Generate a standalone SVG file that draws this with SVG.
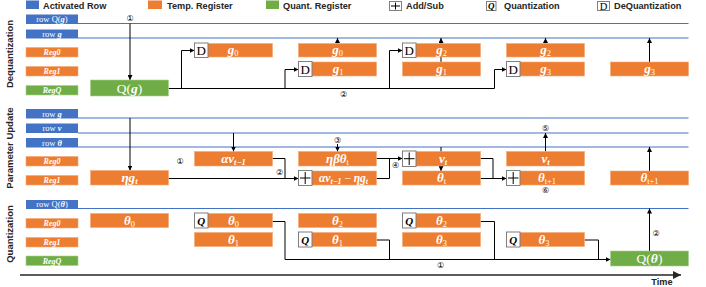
<svg xmlns="http://www.w3.org/2000/svg" width="706" height="287" viewBox="0 0 706 287">
<defs>
<marker id="ah" viewBox="0 0 8 8" refX="8" refY="4" markerWidth="5" markerHeight="5" markerUnits="userSpaceOnUse" orient="auto"><path d="M0,0 L8,4 L0,8 z" fill="#000"/></marker>
<marker id="ahT" viewBox="0 0 8 8" refX="8" refY="4" markerWidth="8" markerHeight="8" markerUnits="userSpaceOnUse" orient="auto"><path d="M0,0 L8,4 L0,8 z" fill="#262626"/></marker>
<style>
.blue{fill:#4472C4}
.or{fill:#ED7D31;stroke:#F2A878;stroke-width:0.6}
.gr{fill:#70AD47;stroke:#A9D18E;stroke-width:0.6}
.row{stroke:#4472C4;stroke-width:1.1;fill:none}
.c{stroke:#000;stroke-width:1;fill:none}
.ca{stroke:#000;stroke-width:1;fill:none;marker-end:url(#ah)}
.ic{fill:#fff;stroke:#7F7F7F;stroke-width:1}
.pl{stroke:#000;stroke-width:1}
.leg{font-family:"Liberation Sans","DejaVu Sans",sans-serif;font-weight:bold;font-size:9.2px;fill:#262626}
.sec{font-family:"Liberation Sans","DejaVu Sans",sans-serif;font-weight:bold;font-size:9.5px;fill:#262626;text-anchor:middle}
.lab{font-family:"Liberation Serif","DejaVu Serif",serif;font-size:8.5px;fill:#fff;text-anchor:middle}
.reg{font-family:"Liberation Serif","DejaVu Serif",serif;font-size:8px;fill:#fff;text-anchor:middle;font-style:italic;font-weight:bold}
.t{font-family:"Liberation Serif","DejaVu Serif",serif;font-size:13px;fill:#fff;text-anchor:middle}
.v{font-style:italic;font-weight:bold}
.s{font-size:8.5px}
.n{font-family:"DejaVu Sans","Noto Sans CJK SC",sans-serif;font-size:8px;fill:#000;text-anchor:middle}
.D{font-family:"Liberation Serif","DejaVu Serif",serif;font-size:13px;fill:#000;text-anchor:middle}
.Q{font-family:"Liberation Serif","DejaVu Serif",serif;font-size:11px;fill:#000;text-anchor:middle;font-style:italic;font-weight:bold}
</style>
</defs>

<!-- Legend -->
<g id="legend">
<rect x="26" y="0.5" width="13" height="8.5" class="blue"/>
<text x="43" y="9" class="leg">Activated Row</text>
<rect x="148" y="0.5" width="14" height="8.5" fill="#ED7D31"/>
<text x="167" y="9" class="leg">Temp. Register</text>
<rect x="266" y="0.5" width="13" height="8.5" fill="#70AD47"/>
<text x="283" y="9" class="leg">Quant. Register</text>
<rect x="389.5" y="1.5" width="12" height="9" class="ic"/>
<line x1="391" y1="6" x2="400" y2="6" class="pl"/><line x1="395.5" y1="2.5" x2="395.5" y2="9.5" class="pl"/>
<text x="406" y="9" class="leg">Add/Sub</text>
<rect x="486.5" y="1.5" width="9.5" height="9" class="ic"/>
<text x="491.2" y="9.3" class="Q" style="font-size:9px">Q</text>
<text x="504" y="9" class="leg">Quantization</text>
<rect x="597.5" y="1.5" width="12" height="9" class="ic"/>
<text x="603.5" y="9.6" class="D" style="font-size:10.5px">D</text>
<text x="614" y="9" class="leg">DeQuantization</text>
</g>

<!-- Section titles -->
<text class="sec" transform="translate(13,54) rotate(-90)">Dequantization</text>
<text class="sec" transform="translate(13,148) rotate(-90)">Parameter Update</text>
<text class="sec" transform="translate(13,234) rotate(-90)">Quantization</text>

<!-- Row lines -->
<g id="rowlines">
<line x1="78" y1="23.5" x2="688.5" y2="23.5" class="row"/>
<line x1="78" y1="38" x2="688.5" y2="38" class="row"/>
<line x1="78" y1="118" x2="688.5" y2="118" class="row"/>
<line x1="78" y1="133" x2="688.5" y2="133" class="row"/>
<line x1="78" y1="147" x2="688.5" y2="147" class="row"/>
<line x1="78" y1="208.5" x2="688.5" y2="208.5" class="row"/>
</g>

<!-- Row labels -->
<g id="labels-dq">
<rect x="26" y="14.5" width="52" height="9.5" class="blue"/><text x="52" y="22" class="lab">row Q(<tspan class="v">g</tspan>)</text>
<rect x="26" y="29.5" width="52" height="9" class="blue"/><text x="52" y="36.5" class="lab">row <tspan class="v">g</tspan></text>
<rect x="26" y="47.5" width="52" height="9.5" class="or"/><text x="52" y="55" class="reg">Reg0</text>
<rect x="26" y="66.5" width="52" height="9.5" class="or"/><text x="52" y="74" class="reg">Reg1</text>
<rect x="26" y="85.5" width="52" height="9.5" class="gr"/><text x="52" y="93" class="reg">RegQ</text>
</g>
<g id="labels-pu">
<rect x="26" y="109" width="52" height="9.5" class="blue"/><text x="52" y="116.5" class="lab">row <tspan class="v">g</tspan></text>
<rect x="26" y="123.5" width="52" height="9.5" class="blue"/><text x="52" y="131" class="lab">row <tspan class="v">v</tspan></text>
<rect x="26" y="138" width="52" height="9.5" class="blue"/><text x="52" y="145.5" class="lab">row <tspan class="v">θ</tspan></text>
<rect x="26" y="156.5" width="52" height="9.5" class="or"/><text x="52" y="164" class="reg">Reg0</text>
<rect x="26" y="175.5" width="52" height="9.5" class="or"/><text x="52" y="183" class="reg">Reg1</text>
</g>
<g id="labels-q">
<rect x="26" y="200" width="52" height="9" class="blue"/><text x="52" y="207" class="lab">row Q(<tspan class="v">θ</tspan>)</text>
<rect x="26" y="218.5" width="52" height="9.5" class="or"/><text x="52" y="226" class="reg">Reg0</text>
<rect x="26" y="237.5" width="52" height="9.5" class="or"/><text x="52" y="245" class="reg">Reg1</text>
<rect x="26" y="256" width="52" height="9.5" class="gr"/><text x="52" y="263.5" class="reg">RegQ</text>
</g>

<!-- Connectors -->
<g id="connectors">
<line x1="130" y1="23.5" x2="130" y2="80" class="ca"/>
<line x1="168.5" y1="88.5" x2="494.5" y2="88.5" class="c"/>
<polyline points="181.5,88.5 181.5,50.5 194.5,50.5" class="ca"/>
<polyline points="285,88.5 285,69.5 298.5,69.5" class="ca"/>
<polyline points="389.5,88.5 389.5,50.5 402.5,50.5" class="ca"/>
<polyline points="494.5,88.5 494.5,69.5 506.5,69.5" class="ca"/>
<line x1="337.5" y1="43.5" x2="337.5" y2="38" class="ca"/>
<line x1="441" y1="71" x2="441" y2="38" class="ca"/>
<line x1="545.5" y1="43.5" x2="545.5" y2="38" class="ca"/>
<line x1="649.5" y1="62" x2="649.5" y2="38" class="ca"/>
<line x1="130" y1="118" x2="130" y2="170.5" class="ca"/>
<line x1="233.5" y1="133" x2="233.5" y2="151.5" class="ca"/>
<line x1="168.5" y1="178.5" x2="298.5" y2="178.5" class="ca"/>
<polyline points="272.5,158.5 285,158.5 285,178.5" class="c"/>
<line x1="337.5" y1="144" x2="337.5" y2="151.5" class="ca"/>
<polyline points="376.5,178.5 389.5,178.5 389.5,158.5" class="c"/>
<line x1="376.5" y1="158.5" x2="402.5" y2="158.5" class="ca"/>
<line x1="441" y1="147" x2="441" y2="171" class="ca"/>
<polyline points="480.5,158.5 493,158.5 493,178.5" class="c"/>
<line x1="480.5" y1="178.5" x2="506.5" y2="178.5" class="ca"/>
<line x1="545.5" y1="151.5" x2="545.5" y2="133" class="ca"/>
<line x1="649.5" y1="171" x2="649.5" y2="147" class="ca"/>
<polyline points="272.5,221.5 285,221.5 285,259.5 610.5,259.5" class="ca"/>
<polyline points="376.5,240 389.5,240 389.5,259.5" class="c"/>
<polyline points="480.5,221.5 494.5,221.5 494.5,259.5" class="c"/>
<polyline points="584.5,240 598.5,240 598.5,259.5" class="c"/>
<line x1="649.5" y1="251" x2="649.5" y2="208.5" class="ca"/>
<line x1="20" y1="275" x2="681" y2="275" stroke="#262626" stroke-width="1.5" marker-end="url(#ahT)"/>
</g>

<!-- Step numbers -->
<g id="steps">
<text x="130" y="21" class="n">①</text>
<text x="343.5" y="97" class="n">②</text>
<text x="180" y="164" class="n">①</text>
<text x="279.5" y="174.5" class="n">②</text>
<text x="337.5" y="143" class="n">③</text>
<text x="395.5" y="167.5" class="n">④</text>
<text x="545.5" y="130.5" class="n">⑤</text>
<text x="545.5" y="193" class="n">⑥</text>
<text x="440.5" y="268" class="n">①</text>
<text x="656" y="235.5" class="n">②</text>
<text x="662" y="285" class="leg" text-anchor="middle">Time</text>
</g>

<!-- Dequantization nodes -->
<g id="dq-Qg"><rect x="90.5" y="80" width="78" height="16" class="gr"/><text x="129.5" y="92.5" class="t" style="font-size:13.5px">Q(<tspan class="v">g</tspan>)</text></g>
<g id="dq-c1-g0"><rect x="194.5" y="43.5" width="78" height="13.5" class="or"/><text x="233" y="54" class="t"><tspan class="v">g</tspan><tspan class="s" dy="2">0</tspan></text><rect x="194.5" y="43" width="13.5" height="14.5" class="ic"/><text x="201.2" y="55" class="D">D</text></g>
<g id="dq-c2-g0"><rect x="298.5" y="43.5" width="78" height="13.5" class="or"/><text x="337.5" y="54" class="t"><tspan class="v">g</tspan><tspan class="s" dy="2">0</tspan></text></g>
<g id="dq-c2-g1"><rect x="298.5" y="62" width="78" height="14" class="or"/><text x="338" y="73" class="t"><tspan class="v">g</tspan><tspan class="s" dy="2">1</tspan></text><rect x="298.5" y="61.5" width="13.5" height="15" class="ic"/><text x="305.2" y="73.8" class="D">D</text></g>
<g id="dq-c3-g2"><rect x="402.5" y="43.5" width="78" height="13.5" class="or"/><text x="441.5" y="54" class="t"><tspan class="v">g</tspan><tspan class="s" dy="2">2</tspan></text><rect x="402.5" y="43" width="13.5" height="14.5" class="ic"/><text x="409.2" y="55" class="D">D</text></g>
<g id="dq-c3-g1"><rect x="402.5" y="62" width="78" height="14" class="or"/><text x="441.5" y="73" class="t"><tspan class="v">g</tspan><tspan class="s" dy="2">1</tspan></text></g>
<g id="dq-c4-g2"><rect x="506.5" y="43.5" width="78" height="13.5" class="or"/><text x="545.5" y="54" class="t"><tspan class="v">g</tspan><tspan class="s" dy="2">2</tspan></text></g>
<g id="dq-c4-g3"><rect x="506.5" y="62" width="78" height="14" class="or"/><text x="545.5" y="73" class="t"><tspan class="v">g</tspan><tspan class="s" dy="2">3</tspan></text><rect x="506.5" y="61.5" width="13.5" height="15" class="ic"/><text x="513.2" y="73.8" class="D">D</text></g>
<g id="dq-c5-g3"><rect x="610.5" y="62" width="78" height="14" class="or"/><text x="649.5" y="73" class="t"><tspan class="v">g</tspan><tspan class="s" dy="2">3</tspan></text></g>

<!-- Parameter update nodes -->
<g id="pu-etag"><rect x="90.5" y="170.5" width="78" height="14.5" class="or"/><text x="129.5" y="182" class="t"><tspan class="v">ηg</tspan><tspan class="s v" dy="2">t</tspan></text></g>
<g id="pu-av"><rect x="194.5" y="151.5" width="78" height="14.5" class="or"/><text x="233.5" y="162.5" class="t"><tspan class="v">αv</tspan><tspan class="s v" dy="2">t−1</tspan></text></g>
<g id="pu-ebt"><rect x="298.5" y="151.5" width="78" height="14.5" class="or"/><text x="337.5" y="162.5" class="t"><tspan class="v">ηβθ</tspan><tspan class="s" dy="2">t</tspan></text></g>
<g id="pu-avg"><rect x="298.5" y="171" width="78" height="14" class="or"/><text x="343.5" y="182" class="t" style="font-size:11.5px"><tspan class="v">αv</tspan><tspan class="s v" dy="2" style="font-size:8px">t−1</tspan><tspan dy="-2"> − </tspan><tspan class="v">ηg</tspan><tspan class="s v" dy="2" style="font-size:8px">t</tspan></text><rect x="298.5" y="170.5" width="13.5" height="15" class="ic"/><line x1="300" y1="178" x2="310.5" y2="178" class="pl"/><line x1="305.2" y1="172" x2="305.2" y2="184" class="pl"/></g>
<g id="pu-vt"><rect x="402.5" y="151.5" width="78" height="14.5" class="or"/><text x="443" y="162.5" class="t"><tspan class="v">v</tspan><tspan class="s v" dy="2">t</tspan></text><rect x="402.5" y="151" width="13.5" height="15.5" class="ic"/><line x1="404" y1="158.7" x2="414.5" y2="158.7" class="pl"/><line x1="409.2" y1="152.5" x2="409.2" y2="165" class="pl"/></g>
<g id="pu-thetat"><rect x="402.5" y="171" width="78" height="14" class="or"/><text x="441.5" y="182" class="t"><tspan class="v">θ</tspan><tspan class="s" dy="2">t</tspan></text></g>
<g id="pu-vt2"><rect x="506.5" y="151.5" width="78" height="14.5" class="or"/><text x="545.5" y="162.5" class="t"><tspan class="v">v</tspan><tspan class="s v" dy="2">t</tspan></text></g>
<g id="pu-theta1"><rect x="506.5" y="171" width="78" height="14" class="or"/><text x="547" y="182" class="t"><tspan class="v">θ</tspan><tspan class="s" dy="2">t+1</tspan></text><rect x="506.5" y="170.5" width="13.5" height="15" class="ic"/><line x1="508" y1="178" x2="518.5" y2="178" class="pl"/><line x1="513.2" y1="172" x2="513.2" y2="184" class="pl"/></g>
<g id="pu-theta1b"><rect x="610.5" y="171" width="78" height="14" class="or"/><text x="649.5" y="182" class="t"><tspan class="v">θ</tspan><tspan class="s" dy="2">t+1</tspan></text></g>

<!-- Quantization nodes -->
<g id="q-c0-t0"><rect x="90.5" y="213.5" width="78" height="14" class="or"/><text x="129.5" y="224.5" class="t"><tspan class="v">θ</tspan><tspan class="s" dy="2">0</tspan></text></g>
<g id="q-c1-t0"><rect x="194.5" y="213.5" width="78" height="14" class="or"/><text x="233.5" y="224.5" class="t"><tspan class="v">θ</tspan><tspan class="s" dy="2">0</tspan></text><rect x="194.5" y="213" width="13.5" height="15" class="ic"/><text x="201.2" y="224.5" class="Q">Q</text></g>
<g id="q-c1-t1"><rect x="194.5" y="232.5" width="78" height="14" class="or"/><text x="233.5" y="243.5" class="t"><tspan class="v">θ</tspan><tspan class="s" dy="2">1</tspan></text></g>
<g id="q-c2-t2"><rect x="298.5" y="213.5" width="78" height="14" class="or"/><text x="337.5" y="224.5" class="t"><tspan class="v">θ</tspan><tspan class="s" dy="2">2</tspan></text></g>
<g id="q-c2-t1"><rect x="298.5" y="232.5" width="78" height="14" class="or"/><text x="337.5" y="243.5" class="t"><tspan class="v">θ</tspan><tspan class="s" dy="2">1</tspan></text><rect x="298.5" y="232" width="13.5" height="15" class="ic"/><text x="305.2" y="243.5" class="Q">Q</text></g>
<g id="q-c3-t2"><rect x="402.5" y="213.5" width="78" height="14" class="or"/><text x="441.5" y="224.5" class="t"><tspan class="v">θ</tspan><tspan class="s" dy="2">2</tspan></text><rect x="402.5" y="213" width="13.5" height="15" class="ic"/><text x="409.2" y="224.5" class="Q">Q</text></g>
<g id="q-c3-t3"><rect x="402.5" y="232.5" width="78" height="14" class="or"/><text x="441.5" y="243.5" class="t"><tspan class="v">θ</tspan><tspan class="s" dy="2">3</tspan></text></g>
<g id="q-c4-t3"><rect x="506.5" y="232.5" width="78" height="14" class="or"/><text x="544" y="243.5" class="t"><tspan class="v">θ</tspan><tspan class="s" dy="2">3</tspan></text><rect x="506.5" y="232" width="13.5" height="15" class="ic"/><text x="513.2" y="243.5" class="Q">Q</text></g>
<g id="q-Qtheta"><rect x="610.5" y="251" width="78" height="15" class="gr"/><text x="649.5" y="262.5" class="t" style="font-size:13.5px">Q(<tspan class="v">θ</tspan>)</text></g>
</svg>
